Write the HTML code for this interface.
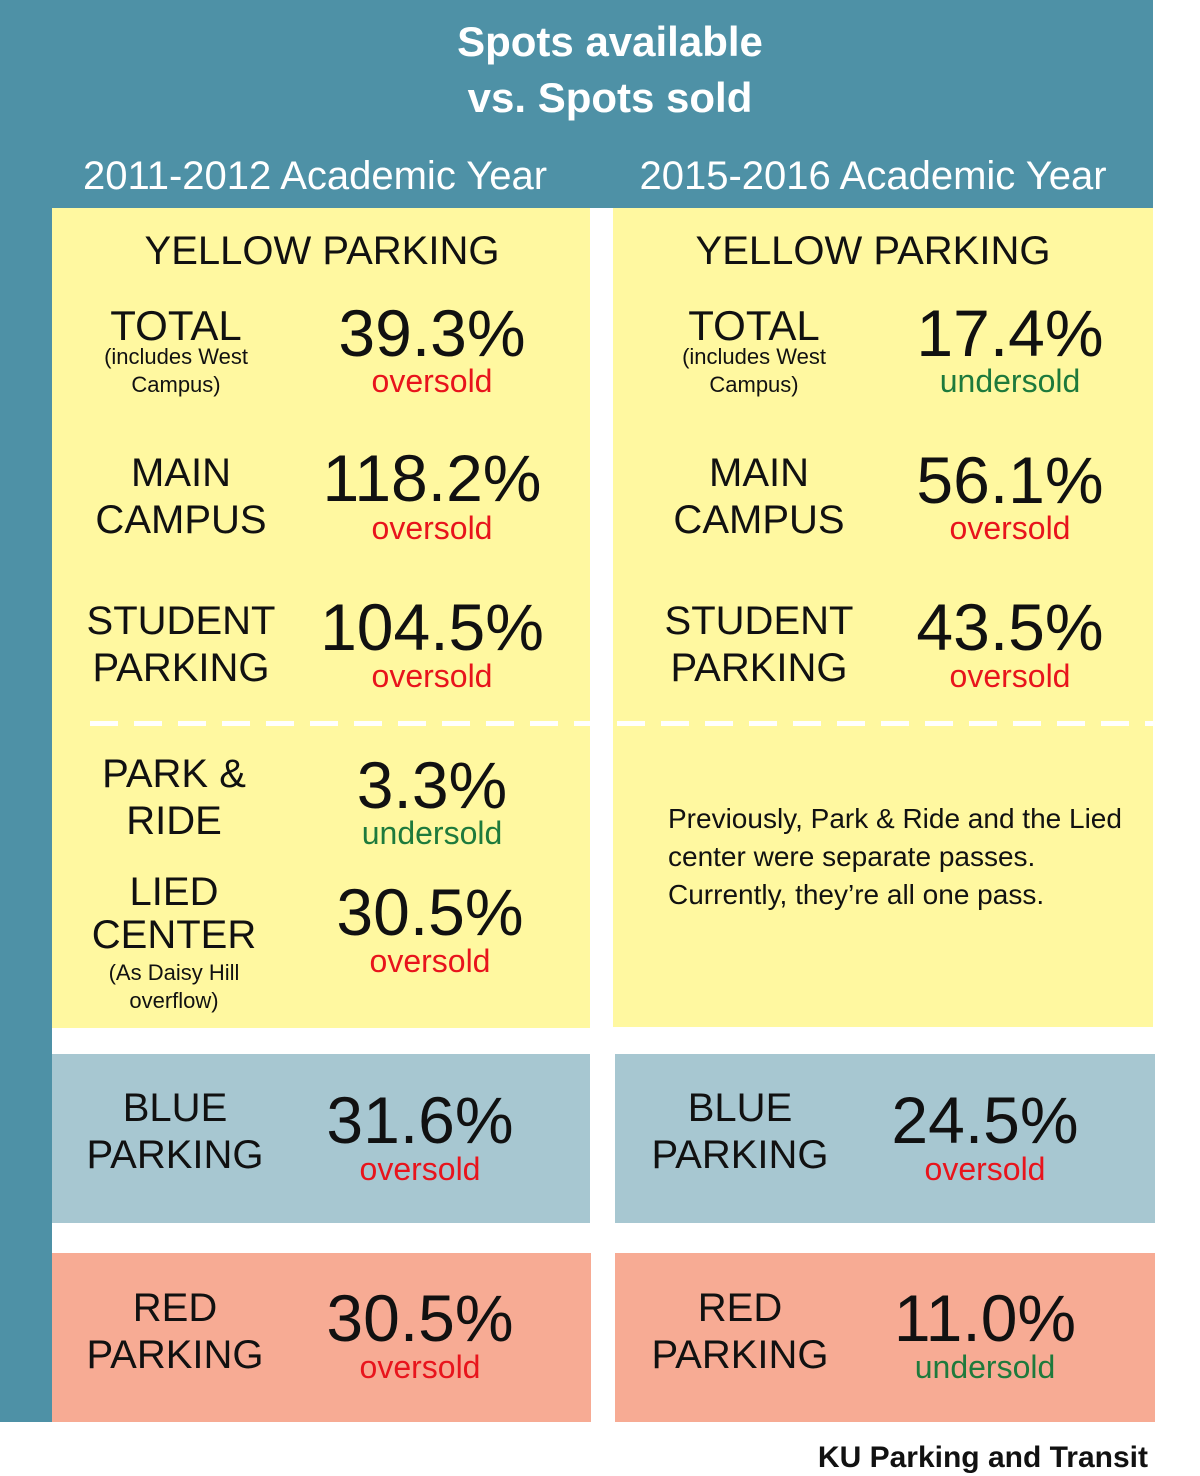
<!DOCTYPE html>
<html><head><meta charset="utf-8"><style>
body{margin:0;width:1200px;height:1475px;position:relative;background:#fff;font-family:"Liberation Sans",sans-serif;overflow:hidden}
.b{position:absolute}
.t{position:absolute;transform:translate(-50%,-50%);line-height:1;white-space:nowrap;color:#111}
.lab{font-size:40px}
.val{font-size:66px}
.sm{font-size:22px}
.ov{font-size:32px;color:#e8141c}
.un{font-size:32px;color:#1e7a3c}
.w{color:#fff}
.dash{position:absolute;height:5px;background:repeating-linear-gradient(90deg,#fff 0 28px,transparent 28px 44px)}
.p{position:absolute;left:668px;font-size:28px;line-height:38px;color:#111;top:800px;width:460px}
</style></head><body>
<div class="b" style="left:0;top:0;width:1153px;height:208px;background:#4e91a6"></div>
<div class="b" style="left:0;top:0;width:52px;height:1422px;background:#4e91a6"></div>
<div class="t w" style="left:610px;top:42px;font-size:42px;font-weight:bold">Spots available</div>
<div class="t w" style="left:610px;top:98px;font-size:42px;font-weight:bold">vs. Spots sold</div>
<div class="t w" style="left:315px;top:176px;font-size:40px">2011-2012 Academic Year</div>
<div class="t w" style="left:873px;top:176px;font-size:40px">2015-2016 Academic Year</div>

<div class="b" style="left:52px;top:208px;width:538px;height:820px;background:#fff8a0"></div>
<div class="b" style="left:613px;top:208px;width:540px;height:819px;background:#fff8a0"></div>
<div class="dash" style="left:90px;top:721px;width:500px"></div>
<div class="dash" style="left:617px;top:721px;width:536px"></div>

<div class="b" style="left:52px;top:1054px;width:538px;height:169px;background:#a7c7d1"></div>
<div class="b" style="left:615px;top:1054px;width:540px;height:169px;background:#a7c7d1"></div>
<div class="b" style="left:52px;top:1253px;width:539px;height:169px;background:#f7ab94"></div>
<div class="b" style="left:615px;top:1253px;width:540px;height:169px;background:#f7ab94"></div>

<!-- left column -->
<div class="t lab" style="left:322px;top:251px">YELLOW PARKING</div>
<div class="t lab" style="left:176px;top:326px;font-size:42px">TOTAL</div>
<div class="t sm" style="left:176px;top:357px">(includes West</div>
<div class="t sm" style="left:176px;top:385px">Campus)</div>
<div class="t val" style="left:432px;top:333px">39.3%</div>
<div class="t ov" style="left:432px;top:381px">oversold</div>
<div class="t lab" style="left:181px;top:473px">MAIN</div>
<div class="t lab" style="left:181px;top:520px">CAMPUS</div>
<div class="t val" style="left:432px;top:478px">118.2%</div>
<div class="t ov" style="left:432px;top:528px">oversold</div>
<div class="t lab" style="left:181px;top:621px">STUDENT</div>
<div class="t lab" style="left:181px;top:668px">PARKING</div>
<div class="t val" style="left:432px;top:627px">104.5%</div>
<div class="t ov" style="left:432px;top:676px">oversold</div>
<div class="t lab" style="left:174px;top:774px">PARK &amp;</div>
<div class="t lab" style="left:174px;top:821px">RIDE</div>
<div class="t val" style="left:432px;top:785px">3.3%</div>
<div class="t un" style="left:432px;top:833px">undersold</div>
<div class="t lab" style="left:174px;top:892px">LIED</div>
<div class="t lab" style="left:174px;top:935px">CENTER</div>
<div class="t sm" style="left:174px;top:973px">(As Daisy Hill</div>
<div class="t sm" style="left:174px;top:1001px">overflow)</div>
<div class="t val" style="left:430px;top:912px">30.5%</div>
<div class="t ov" style="left:430px;top:961px">oversold</div>
<div class="t lab" style="left:175px;top:1108px">BLUE</div>
<div class="t lab" style="left:175px;top:1155px">PARKING</div>
<div class="t val" style="left:420px;top:1120px">31.6%</div>
<div class="t ov" style="left:420px;top:1169px">oversold</div>
<div class="t lab" style="left:175px;top:1308px">RED</div>
<div class="t lab" style="left:175px;top:1355px">PARKING</div>
<div class="t val" style="left:420px;top:1318px">30.5%</div>
<div class="t ov" style="left:420px;top:1367px">oversold</div>

<!-- right column -->
<div class="t lab" style="left:873px;top:251px">YELLOW PARKING</div>
<div class="t lab" style="left:754px;top:326px;font-size:42px">TOTAL</div>
<div class="t sm" style="left:754px;top:357px">(includes West</div>
<div class="t sm" style="left:754px;top:385px">Campus)</div>
<div class="t val" style="left:1010px;top:333px">17.4%</div>
<div class="t un" style="left:1010px;top:381px">undersold</div>
<div class="t lab" style="left:759px;top:473px">MAIN</div>
<div class="t lab" style="left:759px;top:520px">CAMPUS</div>
<div class="t val" style="left:1010px;top:480px">56.1%</div>
<div class="t ov" style="left:1010px;top:528px">oversold</div>
<div class="t lab" style="left:759px;top:621px">STUDENT</div>
<div class="t lab" style="left:759px;top:668px">PARKING</div>
<div class="t val" style="left:1010px;top:627px">43.5%</div>
<div class="t ov" style="left:1010px;top:676px">oversold</div>
<div class="p">Previously, Park &amp; Ride and the Lied center were separate passes. Currently, they’re all one pass.</div>
<div class="t lab" style="left:740px;top:1108px">BLUE</div>
<div class="t lab" style="left:740px;top:1155px">PARKING</div>
<div class="t val" style="left:985px;top:1120px">24.5%</div>
<div class="t ov" style="left:985px;top:1169px">oversold</div>
<div class="t lab" style="left:740px;top:1308px">RED</div>
<div class="t lab" style="left:740px;top:1355px">PARKING</div>
<div class="t val" style="left:985px;top:1318px">11.0%</div>
<div class="t un" style="left:985px;top:1367px">undersold</div>

<div class="b" style="right:52px;top:1440px;font-size:30px;font-weight:bold;line-height:36px;color:#111">KU Parking and Transit</div>
</body></html>
